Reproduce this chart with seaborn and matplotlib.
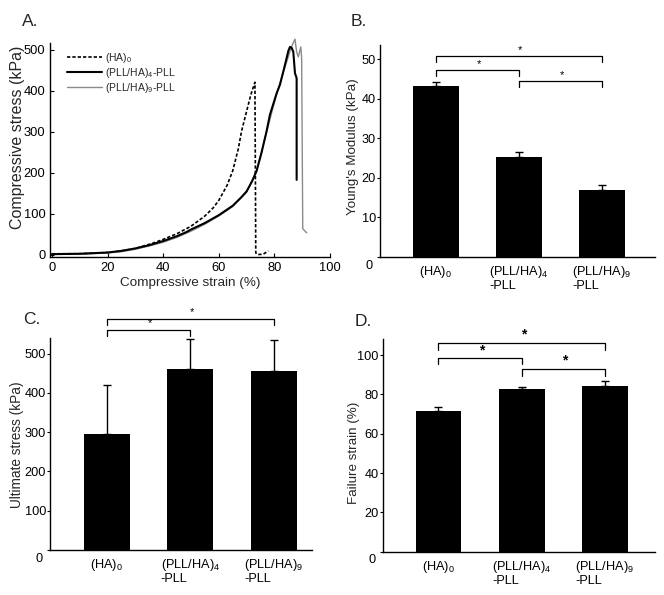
"""Mechanical testing of (PLL/HA)n coated hydrogels: stress-strain curves and bar summaries."""

import matplotlib
matplotlib.use("Agg")
import matplotlib.pyplot as plt
from matplotlib.transforms import ScaledTranslation
import numpy as np
import pandas as pd
import seaborn as sns

# --- panel A: representative stress-strain curves (strain %, stress kPa)
ha0_strain = [0, 10, 20, 25, 30, 36, 40, 45, 50, 55, 58, 60, 63, 65, 67, 68.2,
              70, 71.5, 73, 73.3, 74, 76, 77.8]
ha0_stress = [3, 3, 6, 10, 16, 28, 38, 52, 70, 95, 115, 133, 170, 205, 258, 302,
              350, 390, 421, 5, 1, 2, 10]

pll4_strain = [0, 10, 20, 25, 30, 35, 40, 45, 48.4, 50, 55, 60, 65, 68, 70, 72,
               73.6, 75.4, 77.2, 78.4, 80.8, 82, 83.5, 84.4, 85, 85.6, 86.2,
               86.8, 87.4, 88, 88]
pll4_stress = [2, 3, 6, 10, 16, 24, 34, 46, 56, 62, 78, 97, 120, 140, 155, 180,
               205, 250, 302, 342, 394, 415, 455, 480, 497, 507, 505,
               495, 443, 431, 183]

pll9_strain = [0, 10, 20, 25, 30, 35, 40, 45, 50, 55, 60, 65, 70, 73.6, 77.2,
               80.8, 83.5, 85, 86, 87.4, 88, 88.6, 89.5, 89.8, 90.2, 91.6]
pll9_stress = [2, 2, 5, 8, 14, 22, 31, 43, 58, 75, 95, 118, 153, 205, 300,
               392, 452, 483, 505, 526, 495, 483, 507, 480, 64, 54]

curve_labels = ["(HA)$_0$", "(PLL/HA)$_4$-PLL", "(PLL/HA)$_9$-PLL"]

# --- panels B-D: group means and (upper) error bars
groups = ["(HA)$_0$", "(PLL/HA)$_4$\n-PLL", "(PLL/HA)$_9$\n-PLL"]
modulus = [43.3, 25.3, 16.9]
modulus_err = [0.8, 1.3, 1.2]
ult_stress = [295, 460, 456]
ult_stress_err = [125, 76, 78]
fail_strain = [71.5, 82.5, 84.3]
fail_strain_err = [2.0, 1.3, 2.3]

# significance brackets: (left group, right group, bar level, leg bottom)
b_sig = [(0, 2, 50.8, 49.2), (0, 1, 47.3, 45.6), (1, 2, 44.5, 42.9)]
c_sig = [(0, 2, 589, 572), (0, 1, 561, 545)]
d_sig = [(0, 2, 106.3, 102.5), (0, 1, 98.3, 95.3), (1, 2, 92.9, 89.5)]

sns.set_style("ticks")
plt.rcParams["font.family"] = ["Liberation Sans", "DejaVu Sans"]
plt.rcParams["mathtext.fontset"] = "custom"
plt.rcParams["mathtext.rm"] = "Liberation Sans"
plt.rcParams["mathtext.it"] = "Liberation Sans"
plt.rcParams["mathtext.default"] = "rm"
plt.rcParams["axes.linewidth"] = 1.0

fig = plt.figure(figsize=(6.64, 5.95), dpi=100)
fig.patch.set_facecolor("white")


def style_axes(ax, size):
    sns.despine(ax=ax)
    for s in ["left", "bottom"]:
        ax.spines[s].set_color("black")
    ax.tick_params(labelsize=size, colors="black")


# ---------------- A
axA = fig.add_axes([0.0753, 0.568, 0.4217, 0.36])
curves = [
    (ha0_strain, ha0_stress, "black", (0, (2, 1.2)), 1.2),
    (pll9_strain, pll9_stress, "#8a8a8a", "-", 1.0),
    (pll4_strain, pll4_stress, "black", "-", 1.5),
]
for xs, ys, col, ls, lw in curves:
    sns.lineplot(x=xs, y=ys, estimator=None, sort=False, color=col,
                 linestyle=ls, linewidth=lw, ax=axA)
for ln in axA.lines:
    ln.set_clip_on(False)
handles = [axA.lines[0], axA.lines[2], axA.lines[1]]
axA.legend(handles, curve_labels, loc="upper left", bbox_to_anchor=(0.06, 0.962),
           frameon=False, fontsize=7.5, labelspacing=0.1, handlelength=3.4,
           handletextpad=0.3, borderpad=0, borderaxespad=0)
axA.set_xlim(-0.7, 100)
axA.set_ylim(-5, 517)
axA.set_xticks(np.arange(0, 101, 20))
axA.set_yticks(np.arange(0, 501, 100))
style_axes(axA, 9.3)
axA.tick_params(direction="in", length=3, pad=3.4)
axA.set_xlabel("Compressive strain (%)", fontsize=9.7)
axA.set_ylabel("Compressive stress (kPa)", fontsize=11.5)
axA.xaxis.set_label_coords(0.5, -0.095)
axA.yaxis.set_label_coords(-0.09, 0.56)


def bar_panel(rect, values, errs, ylim, yticks, ylabel, label_size, label_xy,
              xlim, sig, star_kw):
    ax = fig.add_axes(rect)
    df = pd.DataFrame({"group": groups, "value": values})
    sns.barplot(data=df, x="group", y="value", color="black", width=0.55,
                edgecolor="black", linewidth=0, saturation=1, ax=ax)
    ax.errorbar(range(len(values)), values, yerr=[[0] * len(errs), errs],
                fmt="none", ecolor="black", elinewidth=1, capsize=3,
                capthick=1)
    ax.set_xlim(*xlim)
    ax.set_ylim(*ylim)
    ax.set_yticks(yticks)
    style_axes(ax, 9.2)
    ax.tick_params(axis="y", direction="out", length=2.2, pad=0.6)
    ax.tick_params(axis="x", length=0, pad=5)
    for t in ax.get_xticklabels():
        t.set_multialignment("left")
        t.set_linespacing(1.0)
    # the zero label sits a little low/left in the original
    zero = ax.get_yticklabels()[0]
    zero.set_transform(zero.get_transform() +
                       ScaledTranslation(-3 / 100, -7 / 100, fig.dpi_scale_trans))
    ax.set_xlabel("")
    ax.set_ylabel(ylabel, fontsize=label_size)
    ax.yaxis.set_label_coords(*label_xy)
    span = ylim[1] - ylim[0]
    for x0, x1, top, leg in sig:
        ax.plot([x0, x0, x1, x1], [leg, top, top, leg], color="black", lw=0.9,
                clip_on=False)
        ax.text((x0 + x1) / 2 + 0.02, top + span * 0.005, "*", ha="center",
                va="bottom", clip_on=False, **star_kw)
    return ax


small_star = dict(fontsize=8, color="black")
bold_star = dict(fontsize=10, color="black", fontweight="bold")

bar_panel([0.5723, 0.568, 0.4142, 0.356], modulus, modulus_err, (0, 53.5),
          np.arange(0, 51, 10), "Young's Modulus (kPa)", 9.6, (-0.078, 0.52),
          (-0.67, 2.64), b_sig, small_star)
bar_panel([0.0753, 0.0756, 0.3946, 0.356], ult_stress, ult_stress_err, (0, 539),
          np.arange(0, 501, 100), "Ultimate stress (kPa)", 9.8, (-0.099, 0.495),
          (-0.68, 2.46), c_sig, small_star)
bar_panel([0.5763, 0.0728, 0.410, 0.357], fail_strain, fail_strain_err, (0, 108),
          np.arange(0, 101, 20), "Failure strain (%)", 9.6, (-0.082, 0.467),
          (-0.67, 2.6), d_sig, bold_star)

for txt, x, y in [("A.", 22, 14), ("B.", 351, 14), ("C.", 23, 312),
                  ("D.", 355, 314)]:
    fig.text(x / 664, 1 - y / 595, txt, fontsize=12.5, ha="left", va="top")

fig.savefig("out.png", dpi=100, facecolor="white")
